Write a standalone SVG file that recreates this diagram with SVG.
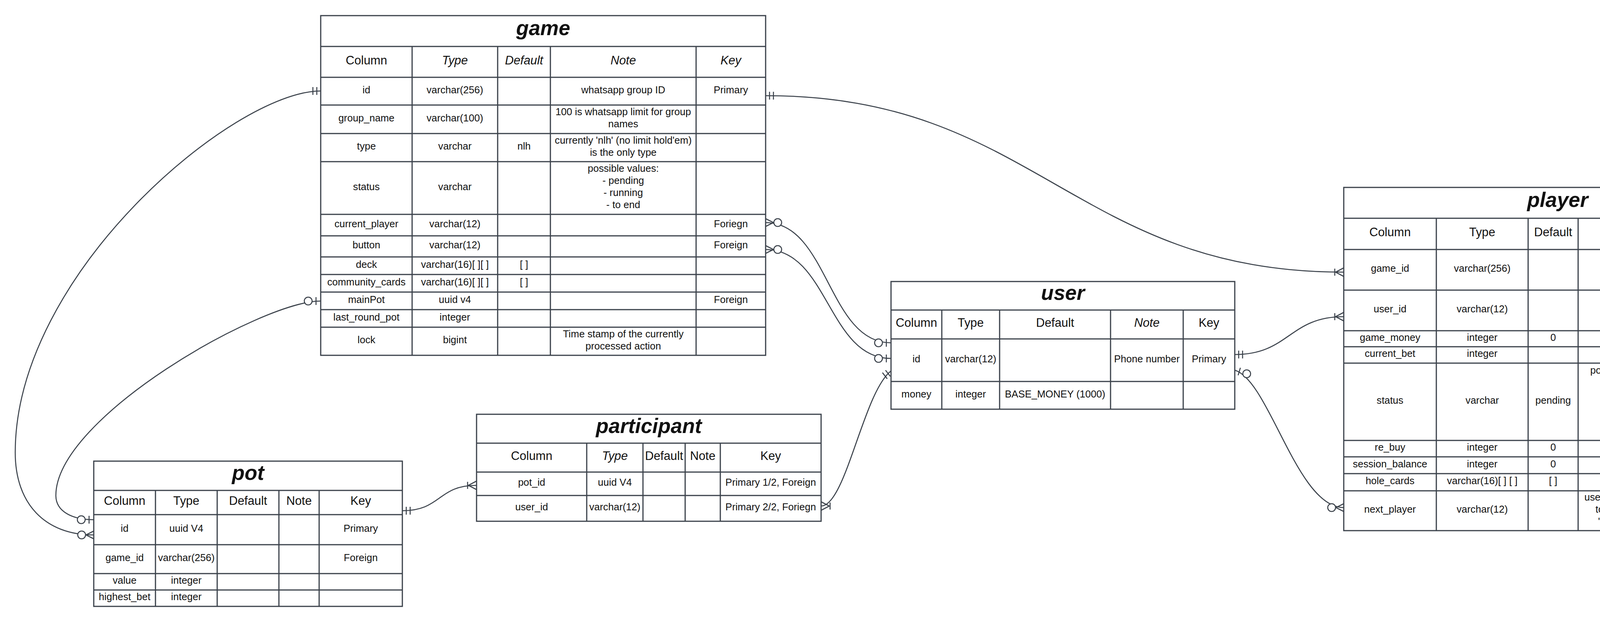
<svg xmlns="http://www.w3.org/2000/svg" width="4575" height="1593" viewBox="0 0 4575 1593">
<style>
text{font-family:"Liberation Sans",Arial,Helvetica,sans-serif;fill:#111;text-anchor:middle}
.b{font-size:25.6px}
.h{font-size:30.8px}
.i{font-style:italic}
.ti{font-size:53px;font-weight:bold;font-style:italic}
.box{fill:#fff;stroke:#3a414a;stroke-width:3}
.ln{stroke:#3a414a;stroke-width:3;fill:none}
.cn{stroke:#3a414a;stroke-width:2.6;fill:none}
.mk{stroke:#3a414a;stroke-width:2.6;fill:none}
.mc{stroke:#3a414a;stroke-width:2.6;fill:#fff}
</style>
<defs>
<marker id="one" orient="auto-start-reverse" markerUnits="userSpaceOnUse" refX="0" refY="0" markerWidth="1" markerHeight="1" style="overflow:visible">
<path class="mk" d="M-10,-10V10M-20,-10V10"/>
</marker>
<marker id="zeroOne" orient="auto-start-reverse" markerUnits="userSpaceOnUse" refX="0" refY="0" markerWidth="1" markerHeight="1" style="overflow:visible">
<path class="mk" d="M-12,-10V10"/>
<circle class="mc" cx="-32" cy="0" r="10"/>
</marker>
<marker id="oneMany" orient="auto-start-reverse" markerUnits="userSpaceOnUse" refX="0" refY="0" markerWidth="1" markerHeight="1" style="overflow:visible">
<path class="mk" d="M0,-11L-21,0L0,11M-23,-9V9"/>
</marker>
<marker id="zeroMany" orient="auto-start-reverse" markerUnits="userSpaceOnUse" refX="0" refY="0" markerWidth="1" markerHeight="1" style="overflow:visible">
<path class="mk" d="M0,-10L-20,0L0,10"/>
<circle class="mc" cx="-31" cy="0" r="10"/>
</marker>
</defs>
<rect x="0" y="0" width="4575" height="1593" fill="#fff"/>

<g id="game">
<rect class="box" x="821" y="40" width="1139" height="870"/>
<path class="ln" d="M821,119H1960M821,198H1960M821,269H1960M821,342H1960M821,414H1960M821,549H1960M821,604H1960M821,658H1960M821,703H1960M821,748H1960M821,793H1960M821,838H1960M1055,119V910M1274,119V910M1409,119V910M1782,119V910"/>
<text class="ti" x="1390.5" y="90.1">game</text>
<text class="h" x="938" y="164.7">Column</text>
<text class="h i" x="1164.5" y="164.7">Type</text>
<text class="h i" x="1341.5" y="164.7">Default</text>
<text class="h i" x="1595.5" y="164.7">Note</text>
<text class="h i" x="1871" y="164.7">Key</text>
<text class="b" x="938" y="238.6">id</text>
<text class="b" x="1164.5" y="238.6">varchar(256)</text>
<text class="b" x="1595.5" y="238.6">whatsapp group ID</text>
<text class="b" x="1871" y="238.6">Primary</text>
<text class="b" x="938" y="310.6">group_name</text>
<text class="b" x="1164.5" y="310.6">varchar(100)</text>
<text class="b" x="1595.5" y="295.1">100 is whatsapp limit for group</text>
<text class="b" x="1595.5" y="326.1">names</text>
<text class="b" x="938" y="383.1">type</text>
<text class="b" x="1164.5" y="383.1">varchar</text>
<text class="b" x="1341.5" y="383.1">nlh</text>
<text class="b" x="1595.5" y="367.6">currently 'nlh' (no limit hold'em)</text>
<text class="b" x="1595.5" y="398.6">is the only type</text>
<text class="b" x="938" y="486.6">status</text>
<text class="b" x="1164.5" y="486.6">varchar</text>
<text class="b" x="1595.5" y="440.1">possible values:</text>
<text class="b" x="1595.5" y="471.1">- pending</text>
<text class="b" x="1595.5" y="502.1">- running</text>
<text class="b" x="1595.5" y="533.1">- to end</text>
<text class="b" x="938" y="581.6">current_player</text>
<text class="b" x="1164.5" y="581.6">varchar(12)</text>
<text class="b" x="1871" y="581.6">Foriegn</text>
<text class="b" x="938" y="636.1">button</text>
<text class="b" x="1164.5" y="636.1">varchar(12)</text>
<text class="b" x="1871" y="636.1">Foreign</text>
<text class="b" x="938" y="685.6">deck</text>
<text class="b" x="1164.5" y="685.6">varchar(16)[ ][ ]</text>
<text class="b" x="1341.5" y="685.6">[ ]</text>
<text class="b" x="938" y="730.6">community_cards</text>
<text class="b" x="1164.5" y="730.6">varchar(16)[ ][ ]</text>
<text class="b" x="1341.5" y="730.6">[ ]</text>
<text class="b" x="938" y="775.6">mainPot</text>
<text class="b" x="1164.5" y="775.6">uuid v4</text>
<text class="b" x="1871" y="775.6">Foreign</text>
<text class="b" x="938" y="820.6">last_round_pot</text>
<text class="b" x="1164.5" y="820.6">integer</text>
<text class="b" x="938" y="879.1">lock</text>
<text class="b" x="1164.5" y="879.1">bigint</text>
<text class="b" x="1595.5" y="863.6">Time stamp of the currently</text>
<text class="b" x="1595.5" y="894.6">processed action</text>
</g>

<g id="player">
<rect class="box" x="3440" y="480" width="1095" height="879"/>
<path class="ln" d="M3440,559H4535M3440,639H4535M3440,743H4535M3440,847H4535M3440,888H4535M3440,930H4535M3440,1128H4535M3440,1170H4535M3440,1213H4535M3440,1257H4535M3677,559V1359M3912,559V1359M4040,559V1359M4284,559V1359"/>
<text class="ti" x="3987.5" y="530.1">player</text>
<text class="h" x="3558.5" y="605.2">Column</text>
<text class="h" x="3794.5" y="605.2">Type</text>
<text class="h" x="3976" y="605.2">Default</text>
<text class="h" x="4162" y="605.2">Note</text>
<text class="h" x="4409.5" y="605.2">Key</text>
<text class="b" x="3558.5" y="696.1">game_id</text>
<text class="b" x="3794.5" y="696.1">varchar(256)</text>
<text class="b" x="4409.5" y="696.1">Primary 1/2, Foreign</text>
<text class="b" x="3558.5" y="800.1">user_id</text>
<text class="b" x="3794.5" y="800.1">varchar(12)</text>
<text class="b" x="4409.5" y="800.1">Primary 2/2, Foreign</text>
<text class="b" x="3558.5" y="872.6">game_money</text>
<text class="b" x="3794.5" y="872.6">integer</text>
<text class="b" x="3976" y="872.6">0</text>
<text class="b" x="3558.5" y="914.1">current_bet</text>
<text class="b" x="3794.5" y="914.1">integer</text>
<text class="b" x="3558.5" y="1034.1">status</text>
<text class="b" x="3794.5" y="1034.1">varchar</text>
<text class="b" x="3976" y="1034.1">pending</text>
<text class="b" x="4162" y="956.6">possible values:</text>
<text class="b" x="4162" y="987.6">- pending</text>
<text class="b" x="4162" y="1018.6">- played</text>
<text class="b" x="4162" y="1049.6">- folded</text>
<text class="b" x="4162" y="1080.6">- all in</text>
<text class="b" x="4162" y="1111.6">-no money</text>
<text class="b" x="3558.5" y="1154.1">re_buy</text>
<text class="b" x="3794.5" y="1154.1">integer</text>
<text class="b" x="3976" y="1154.1">0</text>
<text class="b" x="3558.5" y="1196.6">session_balance</text>
<text class="b" x="3794.5" y="1196.6">integer</text>
<text class="b" x="3976" y="1196.6">0</text>
<text class="b" x="3558.5" y="1240.1">hole_cards</text>
<text class="b" x="3794.5" y="1240.1">varchar(16)[ ] [ ]</text>
<text class="b" x="3976" y="1240.1">[ ]</text>
<text class="b" x="3558.5" y="1313.1">next_player</text>
<text class="b" x="3794.5" y="1313.1">varchar(12)</text>
<text class="b" x="4162" y="1282.1">used with game ID</text>
<text class="b" x="4162" y="1313.1">to self access</text>
<text class="b" x="4162" y="1344.1">'player' table</text>
<text class="b" x="4409.5" y="1313.1">Foreign</text>
</g>

<g id="user">
<rect class="box" x="2281" y="721" width="880" height="327"/>
<path class="ln" d="M2281,794H3161M2281,868H3161M2281,977H3161M2411,794V1048M2559,794V1048M2843,794V1048M3029,794V1048"/>
<text class="ti" x="2721" y="768.1">user</text>
<text class="h" x="2346" y="837.2">Column</text>
<text class="h" x="2485" y="837.2">Type</text>
<text class="h" x="2701" y="837.2">Default</text>
<text class="h i" x="2936" y="837.2">Note</text>
<text class="h" x="3095" y="837.2">Key</text>
<text class="b" x="2346" y="927.6">id</text>
<text class="b" x="2485" y="927.6">varchar(12)</text>
<text class="b" x="2936" y="927.6">Phone number</text>
<text class="b" x="3095" y="927.6">Primary</text>
<text class="b" x="2346" y="1017.6">money</text>
<text class="b" x="2485" y="1017.6">integer</text>
<text class="b" x="2701" y="1017.6">BASE_MONEY (1000)</text>
</g>

<g id="participant">
<rect class="box" x="1220" y="1061" width="882" height="274"/>
<path class="ln" d="M1220,1135H2102M1220,1209H2102M1220,1269H2102M1502,1135V1335M1646,1135V1335M1754,1135V1335M1844,1135V1335"/>
<text class="ti" x="1661" y="1108.6">participant</text>
<text class="h" x="1361" y="1178.2">Column</text>
<text class="h i" x="1574" y="1178.2">Type</text>
<text class="h" x="1700" y="1178.2">Default</text>
<text class="h" x="1799" y="1178.2">Note</text>
<text class="h" x="1973" y="1178.2">Key</text>
<text class="b" x="1361" y="1244.1">pot_id</text>
<text class="b" x="1574" y="1244.1">uuid V4</text>
<text class="b" x="1973" y="1244.1">Primary 1/2, Foreign</text>
<text class="b" x="1361" y="1307.1">user_id</text>
<text class="b" x="1574" y="1307.1">varchar(12)</text>
<text class="b" x="1973" y="1307.1">Primary 2/2, Foriegn</text>
</g>

<g id="pot">
<rect class="box" x="240" y="1181" width="790" height="372"/>
<path class="ln" d="M240,1256H1030M240,1318H1030M240,1395H1030M240,1469H1030M240,1511H1030M398,1256V1553M556,1256V1553M714,1256V1553M817,1256V1553"/>
<text class="ti" x="635" y="1229.1">pot</text>
<text class="h" x="319" y="1293.2">Column</text>
<text class="h" x="477" y="1293.2">Type</text>
<text class="h" x="635" y="1293.2">Default</text>
<text class="h" x="765.5" y="1293.2">Note</text>
<text class="h" x="923.5" y="1293.2">Key</text>
<text class="b" x="319" y="1361.6">id</text>
<text class="b" x="477" y="1361.6">uuid V4</text>
<text class="b" x="923.5" y="1361.6">Primary</text>
<text class="b" x="319" y="1437.1">game_id</text>
<text class="b" x="477" y="1437.1">varchar(256)</text>
<text class="b" x="923.5" y="1437.1">Foreign</text>
<text class="b" x="319" y="1495.1">value</text>
<text class="b" x="477" y="1495.1">integer</text>
<text class="b" x="319" y="1537.1">highest_bet</text>
<text class="b" x="477" y="1537.1">integer</text>
</g>

<g id="connectors">
<path class="cn" marker-start="url(#one)" marker-end="url(#zeroMany)" d="M821,233C600,233 39,700 39,1159C39,1290 115,1370 240,1370"/>
<path class="cn" marker-start="url(#zeroOne)" marker-end="url(#zeroOne)" d="M821,771C670,771 143,1070 143,1269C143,1310 185,1331 240,1331"/>
<path class="cn" marker-start="url(#one)" marker-end="url(#oneMany)" d="M1960,245C2650,245 2750,697 3440,697"/>
<path class="cn" marker-start="url(#zeroMany)" marker-end="url(#zeroOne)" d="M1960,570C2120,570 2120,878 2281,878"/>
<path class="cn" marker-start="url(#zeroMany)" marker-end="url(#zeroOne)" d="M1960,639C2120,639 2120,918 2281,918"/>
<path class="cn" marker-start="url(#oneMany)" marker-end="url(#one)" d="M2102,1296C2165,1296 2210,1005 2281,950"/>
<path class="cn" marker-start="url(#one)" marker-end="url(#oneMany)" d="M3161,908C3300,908 3300,811 3440,811"/>
<path class="cn" marker-start="url(#zeroOne)" marker-end="url(#zeroMany)" d="M3161,948C3250,975 3320,1300 3440,1300"/>
<path class="cn" marker-start="url(#one)" marker-end="url(#oneMany)" d="M1030,1308C1130,1308 1120,1243 1220,1243"/>
</g>
</svg>
